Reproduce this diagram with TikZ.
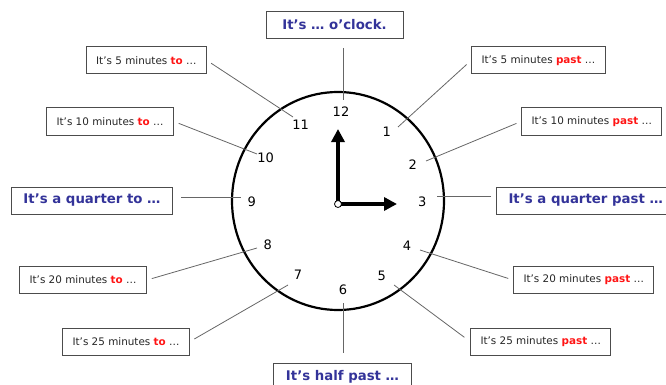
\documentclass[tikz,border=0pt]{standalone}
\usepackage{fontspec}
\setmainfont{DejaVu Sans}
\usetikzlibrary{arrows.meta, shapes.geometric}
\usepackage{xcolor}
\definecolor{azul}{RGB}{51, 51, 153}
\definecolor{vermelho}{RGB}{255, 20, 20}
\newcommand{\emTo}{\textcolor{vermelho}{\textbf{to}}}
\newcommand{\emPast}{\textcolor{vermelho}{\textbf{past}}}

\begin{document}
\begin{tikzpicture}[
    x=1pt, y=-1pt,
    caixa/.style={
        draw=black!70,
        line width=1pt,
        minimum height=27pt,
        inner xsep=10pt,
        inner ysep=0pt,
        text=black!85,
        font=\fontsize{10.4}{12}\selectfont
    },
    caixaG/.style={
        caixa,
        inner xsep=12pt,
        text=azul,
        font=\fontsize{13.3}{15}\selectfont\bfseries
    },
    linha/.style={
        draw=black!60,
        line width=0.8pt
    },
    ponteiro/.style={
        line width=4.5pt,
        -{Triangle[length=13pt, width=13pt]}
    },
    numero/.style={
        inner sep=0pt,
        font=\fontsize{13}{15}\selectfont
    }
]

\useasboundingbox (0,0) rectangle (666,385);
\clip (0,0) rectangle (666,385);

% =================================================
% RELOGIO
% =================================================

\node[draw, ellipse, line width=2.2pt,
    minimum width=212pt, minimum height=218pt] (relogio) at (338,201) {};

\foreach \h/\px/\py in {12/341/111.7, 1/386.7/131.7, 2/412.7/164.3,
    3/422.3/201.7, 4/407/245.7, 5/381.7/276, 6/343/289.3, 7/298/275,
    8/267.7/244.3, 9/251.7/201.7, 10/265.7/158, 11/300.7/125}
    \node[numero] (n\h) at (\px,\py) {\h};

\coordinate (centro) at (338,204);
\coordinate (pontaH) at (338,129);
\coordinate (pontaM) at (397,204);

\draw[ponteiro] (centro) -- (pontaH);
\draw[ponteiro] (centro) -- (pontaM);

\node[circle, draw, fill=white, inner sep=0pt,
    minimum size=7pt, line width=0.8pt] (eixo) at (centro) {};

% =================================================
% PONTAS DAS LINHAS
% =================================================

\coordinate (m12) at (343,100);
\coordinate (m1) at (398,127);
\coordinate (m2) at (426,161);
\coordinate (m3) at (437,196);
\coordinate (m4) at (420,250);
\coordinate (m5) at (394,285);
\coordinate (m6) at (343,303);
\coordinate (m7) at (288,285);
\coordinate (m8) at (257,248);
\coordinate (m9) at (241,197);
\coordinate (m10) at (257,154);
\coordinate (m11) at (293,117);

% =================================================
% CAIXAS - TO
% =================================================

\node[caixaG, minimum width=137pt] (c12) at (334.5,25)
{It’s … o’clock.};

\node[caixa, anchor=east] (c5to) at (207,60.5)
{It’s 5 minutes \emTo{} …};

\node[caixa, anchor=east] (c10to) at (174,121.5)
{It’s 10 minutes \emTo{} …};

\node[caixaG, anchor=east] (c9) at (173,200.5)
{It’s a quarter to …};

\node[caixa, anchor=east] (c20to) at (147,280)
{It’s 20 minutes \emTo{} …};

\node[caixa, anchor=east] (c25to) at (190,341.5)
{It’s 25 minutes \emTo{} …};

\node[caixaG, minimum width=137pt] (c6) at (342.5,376.5)
{It’s half past …};

% =================================================
% CAIXAS - PAST
% =================================================

\node[caixa, anchor=west] (c5past) at (471,60.5)
{It’s 5 minutes \emPast{} …};

\node[caixa, anchor=west] (c10past) at (521,121.5)
{It’s 10 minutes \emPast{} …};

\node[caixaG, anchor=west] (c3) at (496,200.5)
{It’s a quarter past …};

\node[caixa, anchor=west] (c20past) at (513,280)
{It’s 20 minutes \emPast{} …};

\node[caixa, anchor=west] (c25past) at (470,341.5)
{It’s 25 minutes \emPast{} …};

% =================================================
% LINHAS
% =================================================

\draw[linha, shorten <=9pt] (c12.south -| m12) -- (m12);
\draw[linha, shorten <=5pt] (c5to.east) -- (m11);
\draw[linha, shorten <=5pt] (c10to.east) -- (m10);
\draw[linha, shorten <=8pt] (c9.east |- m9) -- (m9);
\draw[linha, shorten <=5pt] (c20to.east) -- (m8);
\draw[linha, shorten <=5pt] (c25to.east) -- (m7);
\draw[linha, shorten <=10pt] (c6.north -| m6) -- (m6);
\draw[linha, shorten <=7pt] (c25past.west) -- (m5);
\draw[linha, shorten <=5pt] (c20past.west) -- (m4);
\draw[linha, shorten <=5pt] (c3.west |- m3) -- (m3);
\draw[linha, shorten <=5pt] (c10past.west) -- (m2);
\draw[linha, shorten <=6pt] (c5past.west) -- (m1);

\end{tikzpicture}
\end{document}
